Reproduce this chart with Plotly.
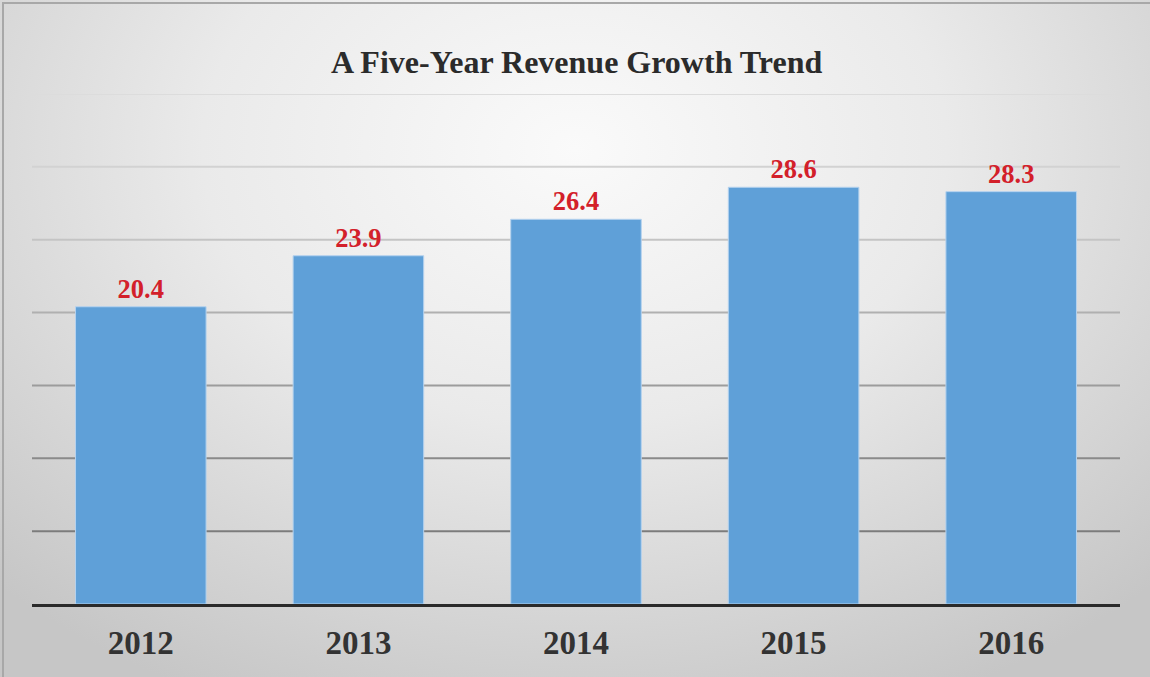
import base64
import plotly.graph_objects as go

# Revenue by year
years = ["2012", "2013", "2014", "2015", "2016"]
revenue = [20.4, 23.9, 26.4, 28.6, 28.3]

# Value-axis grid levels (bottom lines darker, top lines lighter)
grid_levels = [5, 10, 15, 20, 25, 30, 35]
grid_colors = ["#7c7c7c", "#8a8a8a", "#9c9c9c", "#b0b0b0", "#c4c4c4", "#d2d2d2", "#dcdcdc"]

SERIF = "Liberation Serif, Times New Roman, serif"

W, H = 1150, 677
ML, MR, MT, MB = 32, 30, 94, 73
PW, PH = W - ML - MR, H - MT - MB

# Soft radial grey backdrop, drawn as an SVG image behind the plot
svg = f"""<svg xmlns='http://www.w3.org/2000/svg' width='{W}' height='{H}' viewBox='0 0 {W} {H}' preserveAspectRatio='none'>
<defs><radialGradient id='g' cx='0.5' cy='0.22' r='0.72' gradientTransform='translate(0.5 0.22) scale(1 1.25) translate(-0.5 -0.22)'>
<stop offset='0' stop-color='#fafafa'/><stop offset='0.45' stop-color='#eaeaea'/><stop offset='1' stop-color='#c6c6c6'/>
</radialGradient></defs>
<rect x='0' y='0' width='{W}' height='{H}' fill='url(#g)'/>
</svg>"""
bg_src = "data:image/svg+xml;base64," + base64.b64encode(svg.encode()).decode()


def px_x(p):
    return (p - ML) / PW


def px_y(p):
    return (H - MB - p) / PH


fig = go.Figure(
    go.Bar(
        x=years,
        y=revenue,
        text=revenue,
        texttemplate="<b>%{y:.1f}</b>",
        textposition="outside",
        cliponaxis=False,
        textfont=dict(family=SERIF, size=26.5, color="#d3202a"),
        marker=dict(color="#5fa0d8", line=dict(color="#b5d2ee", width=1)),
        hoverinfo="skip",
    )
)

shapes = [
    dict(type="line", xref="paper", yref="y", x0=0, x1=1, y0=v, y1=v,
         line=dict(color=c, width=2), layer="below")
    for v, c in zip(grid_levels, grid_colors)
]
# thin frame around the chart area
shapes.append(dict(type="rect", xref="paper", yref="paper",
                   x0=px_x(3), x1=px_x(W + 5), y0=px_y(3), y1=px_y(H + 5),
                   line=dict(color="#a8a8a8", width=2), layer="above"))

fig.update_layout(
    width=W,
    height=H,
    margin=dict(l=ML, r=MR, t=MT, b=MB),
    paper_bgcolor="#e2e2e2",
    plot_bgcolor="rgba(0,0,0,0)",
    bargap=0.4,
    showlegend=False,
    annotations=[dict(
        text="<b>A Five-Year Revenue Growth Trend</b>",
        xref="paper", yref="paper", x=0.5, y=px_y(62),
        xanchor="center", yanchor="middle", showarrow=False,
        font=dict(family=SERIF, size=32, color="#2b2b2b"),
    )],
    xaxis=dict(
        showline=True, linecolor="#2a2a2a", linewidth=3,
        showgrid=False, ticks="", ticklabelstandoff=7,
        tickprefix="<b>", ticksuffix="</b>",
        tickfont=dict(family=SERIF, size=33, color="#333333"),
        fixedrange=True,
    ),
    yaxis=dict(
        range=[0, 35], showgrid=False, zeroline=False, showticklabels=False,
        ticks="", fixedrange=True,
    ),
    shapes=shapes,
    images=[dict(
        source=bg_src, xref="paper", yref="paper",
        x=px_x(0), y=px_y(0), sizex=W / PW, sizey=H / PH,
        xanchor="left", yanchor="top", sizing="stretch", layer="below",
    )],
)

fig.write_html("out.html")
